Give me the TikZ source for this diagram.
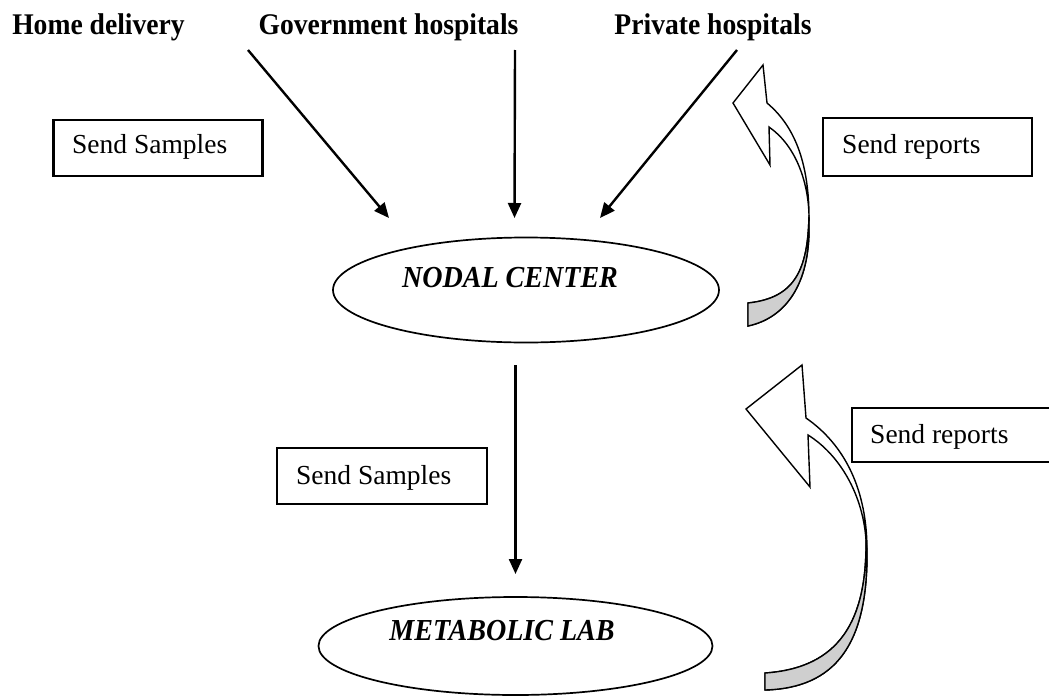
\documentclass[tikz,border=0pt]{standalone}
\usepackage{fontspec}
\setmainfont{Liberation Serif}
\usetikzlibrary{shapes.geometric,arrows.meta}

\tikzset{
  source/.style={font=\fontsize{30}{34}\selectfont\bfseries, xscale=0.92, anchor=base, inner sep=0pt},
  centre/.style={font=\fontsize{30.5}{34}\selectfont\bfseries\itshape, xscale=0.92, anchor=base, inner sep=0pt},
  oval/.style={draw, ellipse, line width=1.7pt, inner sep=0pt},
  tagbox/.style={draw, line width=2.4pt, inner sep=0pt},
  tagtext/.style={font=\fontsize{27.5}{31}\selectfont, anchor=base west, inner sep=0pt},
  flow/.style={line width=2.4pt, -{Triangle[length=15pt,width=13pt]}},
  bandline/.style={line width=1.4pt, line join=miter},
}

\begin{document}
\begin{tikzpicture}[x=1pt,y=-1pt]
\useasboundingbox (0,0) rectangle (1049,696);
\clip (0,0) rectangle (1049,696);

% sources of samples
\node[source] (home) at (98.5,34) {Home delivery};
\node[source] (gov)  at (388.5,34) {Government hospitals};
\node[source] (priv) at (713,34) {Private hospitals};

% centres
\node[oval, minimum width=386pt, minimum height=105pt] (nodal) at (526,290) {};
\node[centre] (nodaltxt) at (510,287) {NODAL CENTER};
\node[oval, minimum width=394pt, minimum height=98pt] (lab) at (515.5,646) {};
\node[centre] (labtxt) at (502,640) {METABOLIC LAB};

% label boxes
\node[tagbox, minimum width=209pt, minimum height=56pt] (ssbox1) at (158,148) {};
\node[tagtext] (ss1) at (72,153) {Send Samples};
\node[tagbox, minimum width=209pt, minimum height=58pt] (srbox1) at (927.5,147) {};
\node[tagtext] (sr1) at (842,153) {Send reports};
\node[tagbox, minimum width=210pt, minimum height=54pt] (srbox2) at (957,435) {};
\node[tagtext] (sr2) at (870,443) {Send reports};
\node[tagbox, minimum width=210pt, minimum height=56pt] (ssbox2) at (382,476) {};
\node[tagtext] (ss2) at (296,484) {Send Samples};

% connector end points
\coordinate (homeS) at (248,50);
\coordinate (homeE) at (389,218);
\coordinate (govS)  at (515,50);
\coordinate (govE)  at (514.5,218);
\coordinate (privS) at (737,50);
\coordinate (privE) at (600,218);
\coordinate (downS) at (515.5,365);
\coordinate (downE) at (515.5,574);

\draw[flow] (homeS) -- (homeE);
\draw[flow] (govS) -- (govE);
\draw[flow] (privS) -- (privE);
\draw[flow] (downS) -- (downE);

% curved block arrow: nodal centre reports back
\coordinate (rA-tb) at (748,326);
\coordinate (rA-tt) at (748,303);
\coordinate (rA-mid) at (809,225);
\coordinate (rA-oj) at (767,103);
\coordinate (rA-tip) at (763,65);
\coordinate (rA-left) at (733,103);
\coordinate (rA-barb) at (770,165);
\coordinate (rA-ij) at (769,127);
\coordinate (rA-m) at (809,215);
\filldraw[bandline, fill=white]
  (rA-tb) .. controls (785,318) and (810,285) .. (rA-mid)
  .. controls (810,168) and (797,128) .. (rA-oj)
  -- (rA-tip) -- (rA-left) -- (rA-barb) -- (rA-ij)
  .. controls (795,145) and (808,180) .. (rA-m)
  .. controls (808,270) and (795,298) .. (rA-tt) -- cycle;
\filldraw[bandline, fill=black!19]
  (rA-m) .. controls (808,270) and (795,298) .. (rA-tt)
  -- (rA-tb) .. controls (785,318) and (810,285) .. (rA-mid) -- cycle;

% curved block arrow: metabolic lab reports back
\coordinate (rB-tb) at (765,690);
\coordinate (rB-tt) at (765,673);
\coordinate (rB-mid) at (867,550);
\coordinate (rB-oj) at (806,418);
\coordinate (rB-tip) at (802,365);
\coordinate (rB-left) at (746,409);
\coordinate (rB-barb) at (810,487);
\coordinate (rB-ij) at (808,435);
\coordinate (rB-m) at (866,540);
\filldraw[bandline, fill=white]
  (rB-tb) .. controls (835,688) and (868,645) .. (rB-mid)
  .. controls (867,490) and (845,445) .. (rB-oj)
  -- (rB-tip) -- (rB-left) -- (rB-barb) -- (rB-ij)
  .. controls (840,455) and (863,495) .. (rB-m)
  .. controls (867,620) and (840,668) .. (rB-tt) -- cycle;
\filldraw[bandline, fill=black!19]
  (rB-m) .. controls (867,620) and (840,668) .. (rB-tt)
  -- (rB-tb) .. controls (835,688) and (868,645) .. (rB-mid) -- cycle;

\end{tikzpicture}
\end{document}
